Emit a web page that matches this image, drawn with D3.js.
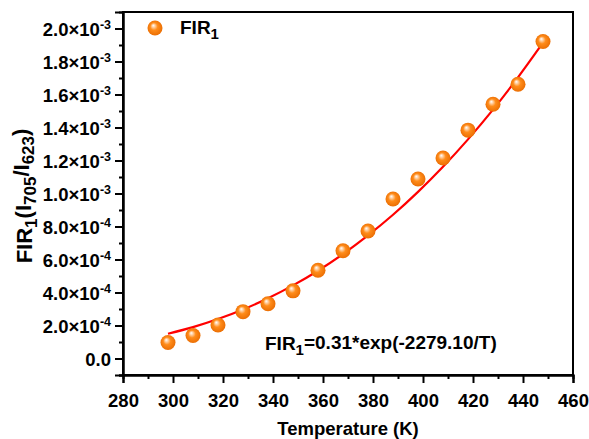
<!DOCTYPE html>
<html>
<head>
<meta charset="utf-8">
<script src="https://cdn.jsdelivr.net/npm/d3@7"></script>
<style>
  body { margin: 0; background: #fff; }
  svg text { font-family: "Liberation Sans", Arial, sans-serif; font-weight: bold; fill: #000; }
</style>
</head>
<body>
<svg id="chart" width="589" height="439"></svg>
<script>
// measured points
const temps = [298, 308, 318, 328, 338, 348, 358, 368, 378, 388, 398, 408, 418, 428, 438, 448];
const firValues = [0.97e-4, 1.39e-4, 2.03e-4, 2.84e-4, 3.32e-4, 4.1e-4, 5.35e-4, 6.53e-4, 7.73e-4,
  9.67e-4, 1.088e-3, 1.215e-3, 1.384e-3, 1.541e-3, 1.662e-3, 1.921e-3];
// fitted curve
const fitTemps = [298, 308, 318, 328, 338, 348, 358, 368, 378, 388, 398, 408, 418, 428, 438, 448];
const fitValues = [1.5e-4, 1.9e-4, 2.39e-4, 2.97e-4, 3.65e-4, 4.43e-4, 5.32e-4, 6.33e-4, 7.46e-4,
  8.71e-4, 1.01e-3, 1.162e-3, 1.328e-3, 1.508e-3, 1.704e-3, 1.914e-3];
const xTicks = [280, 300, 320, 340, 360, 380, 400, 420, 440, 460];
const yTicks = [0, 2e-4, 4e-4, 6e-4, 8e-4, 1.0e-3, 1.2e-3, 1.4e-3, 1.6e-3, 1.8e-3, 2.0e-3];
const yTickLabels = ["0.0", "2.0×10|-4", "4.0×10|-4", "6.0×10|-4", "8.0×10|-4", "1.0×10|-3",
  "1.2×10|-3", "1.4×10|-3", "1.6×10|-3", "1.8×10|-3", "2.0×10|-3"];

const pLeft = 123, pTop = 12, pRight = 573, pBottom = 375;
const svg = d3.select('#chart');

const xScale = d3.scaleLinear().domain([280, 460]).range([pLeft, pRight]);
const yScale = d3.scaleLinear().domain([-1e-4, 2.1e-3]).range([pBottom, pTop]);

// gradient for the ball markers
const defs = svg.append('defs');
const grad = defs.append('radialGradient').attr('id', 'ball')
  .attr('cx', '0.5').attr('cy', '0.5').attr('r', '0.55')
  .attr('fx', '0.38').attr('fy', '0.32');
grad.append('stop').attr('offset', '0%').attr('stop-color', '#ffffff');
grad.append('stop').attr('offset', '18%').attr('stop-color', '#ffd2a8');
grad.append('stop').attr('offset', '45%').attr('stop-color', '#ff8c1a');
grad.append('stop').attr('offset', '100%').attr('stop-color', '#e86a00');

// frame
svg.append('rect')
  .attr('x', pLeft).attr('y', pTop)
  .attr('width', pRight - pLeft).attr('height', pBottom - pTop)
  .attr('fill', 'none').attr('stroke', '#000').attr('stroke-width', 2);

// x axis
const xAxis = d3.axisBottom(xScale).tickValues(xTicks).tickSize(8).tickPadding(6).tickFormat(d3.format('d'));
const gx = svg.append('g').attr('transform', `translate(0,${pBottom})`).call(xAxis);
const xMinor = d3.axisBottom(xScale).tickValues(d3.range(290, 460, 20)).tickSize(4).tickFormat('');
svg.append('g').attr('transform', `translate(0,${pBottom})`).call(xMinor);

// y axis
const yAxis = d3.axisLeft(yScale).tickValues(yTicks).tickSize(8).tickPadding(5).tickFormat((d, i) => '');
const gy = svg.append('g').attr('transform', `translate(${pLeft},0)`).call(yAxis);
const yMinor = d3.axisLeft(yScale).tickValues([-1e-4, 1e-4, 3e-4, 5e-4, 7e-4, 9e-4, 1.1e-3, 1.3e-3, 1.5e-3, 1.7e-3, 1.9e-3]).tickSize(4).tickFormat('');
svg.append('g').attr('transform', `translate(${pLeft},0)`).call(yMinor);

gy.selectAll('.tick text').each(function (d, i) {
  const t = d3.select(this);
  const parts = yTickLabels[i].split('|');
  t.text(null);
  t.append('tspan').text(parts[0]);
  if (parts[1]) {
    t.append('tspan').attr('dy', '-0.55em').style('font-size', '12.5px').text(parts[1]);
  }
});

svg.selectAll('.domain').attr('stroke-width', 2);
svg.selectAll('.tick line').attr('stroke-width', 2);
svg.selectAll('.tick text').style('font-size', '18.5px').style('font-family', '"Liberation Sans", Arial, sans-serif').style('font-weight', 'bold');
gy.selectAll('.tick text').attr('x', -12).attr('dy', '0.36em');
gx.selectAll('.tick text').attr('dy', '0.95em');

// fitted line
const line = d3.line()
  .x((d, i) => xScale(fitTemps[i]))
  .y(d => yScale(d))
  .curve(d3.curveMonotoneX);
svg.append('path')
  .attr('d', line(fitValues))
  .attr('fill', 'none')
  .attr('stroke', '#ff0000')
  .attr('stroke-width', 2.2);

// markers
svg.append('g').selectAll('circle')
  .data(firValues)
  .join('circle')
  .attr('cx', (d, i) => xScale(temps[i]))
  .attr('cy', d => yScale(d))
  .attr('r', 7.5)
  .attr('fill', 'url(#ball)');

// legend
svg.append('circle').attr('cx', 155).attr('cy', 28).attr('r', 7.5).attr('fill', 'url(#ball)');
const leg = svg.append('text').attr('x', 180).attr('y', 34).style('font-size', '19px');
leg.append('tspan').text('FIR');
leg.append('tspan').attr('dy', '0.35em').style('font-size', '15px').text('1');

// equation
const eq = svg.append('text').attr('x', 265).attr('y', 350).style('font-size', '19px');
eq.append('tspan').text('FIR');
eq.append('tspan').attr('dy', '0.3em').style('font-size', '15px').text('1');
eq.append('tspan').attr('dy', '-0.3em').text('=0.31*exp(-2279.10/T)');

// axis titles
svg.append('text')
  .attr('x', (pLeft + pRight) / 2).attr('y', 435)
  .attr('text-anchor', 'middle')
  .style('font-size', '18.5px')
  .text('Temperature (K)');

const yt = svg.append('text')
  .attr('transform', 'translate(32,196) rotate(-90)')
  .attr('text-anchor', 'middle')
  .style('font-size', '22px');
yt.append('tspan').text('FIR');
yt.append('tspan').attr('dy', '0.3em').style('font-size', '17px').text('1');
yt.append('tspan').attr('dy', '-0.3em').text('(I');
yt.append('tspan').attr('dy', '0.3em').style('font-size', '17px').text('705');
yt.append('tspan').attr('dy', '-0.3em').text('/I');
yt.append('tspan').attr('dy', '0.3em').style('font-size', '17px').text('623');
yt.append('tspan').attr('dy', '-0.3em').text(')');
</script>
</body>
</html>
